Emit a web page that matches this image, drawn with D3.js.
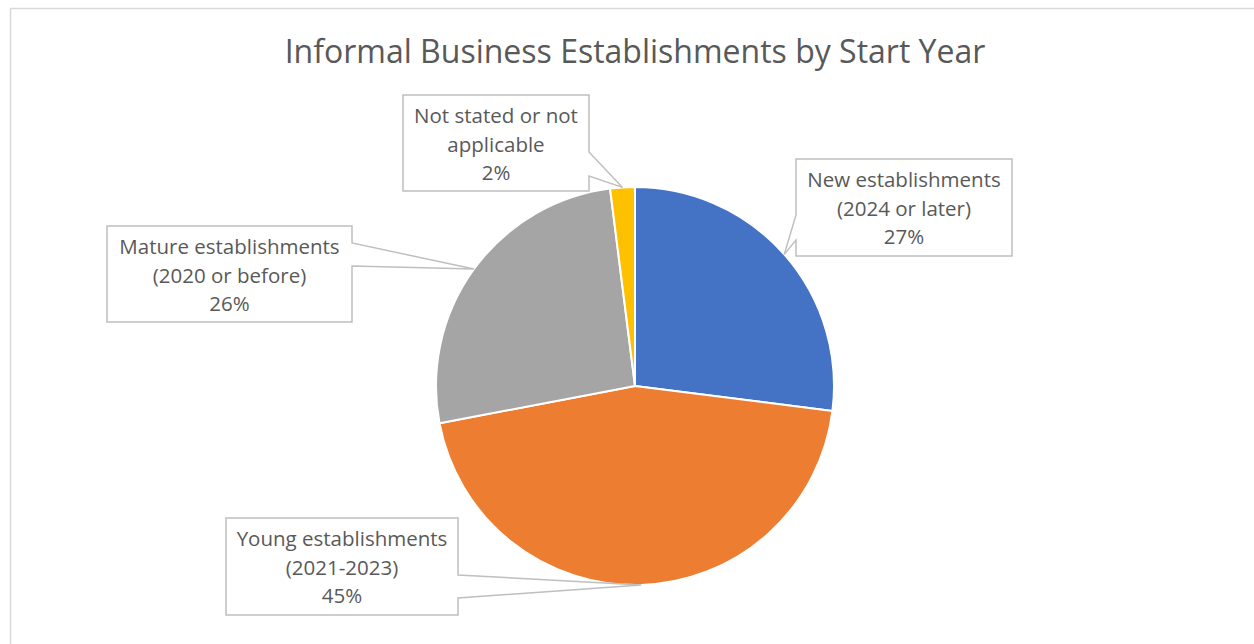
<!DOCTYPE html>
<html>
<head>
<meta charset="utf-8">
<script src="https://cdn.jsdelivr.net/npm/d3@7"></script>
<style>
  html, body { margin: 0; padding: 0; background: #fff; }
  svg { display: block; }
  text { font-family: "Open Sans", "Noto Sans", sans-serif; fill: #595959; }
</style>
</head>
<body>
<svg id="chart" width="1254" height="644"></svg>
<script>
// Share of informal business establishments by start year
const categories = [
  ["New establishments", "(2024 or later)"],
  ["Young establishments", "(2021-2023)"],
  ["Mature establishments", "(2020 or before)"],
  ["Not stated or not", "applicable"]
];
const shares = [27, 45, 26, 2];
const colors = ["#4472C4", "#ED7D31", "#A5A5A5", "#FFC000"];
const title = "Informal Business Establishments by Start Year";

// Callout box placement (x, y, w, h) and the side the pointer leaves from
const callouts = [
  { box: [796, 159, 216, 97], side: "left",  base: [215, 240] },
  { box: [226, 518, 232, 97], side: "right", base: [575, 598] },
  { box: [107, 226, 245, 96], side: "right", base: [243, 266] },
  { box: [403, 95, 186, 96],  side: "right", base: [152, 176] }
];

const svg = d3.select("#chart");
const W = 1254, H = 644;

// chart area frame
svg.append("rect")
  .attr("x", 10.5).attr("y", 8.5)
  .attr("width", W).attr("height", H)
  .attr("fill", "#fff")
  .attr("stroke", "#d9d9d9").attr("stroke-width", 1.5);

svg.append("text")
  .attr("x", 635).attr("y", 63)
  .attr("text-anchor", "middle")
  .attr("font-size", 32)
  .text(title);

const cx = 635, cy = 386, R = 199;
const pie = d3.pie().sort(null).startAngle(0).endAngle(2 * Math.PI);
const arcs = pie(shares);
const arc = d3.arc().innerRadius(0).outerRadius(R);

const g = svg.append("g").attr("transform", `translate(${cx},${cy})`);
g.selectAll("path.slice")
  .data(arcs)
  .join("path")
  .attr("class", "slice")
  .attr("d", arc)
  .attr("fill", (d, i) => colors[i])
  .attr("stroke", "#fff")
  .attr("stroke-width", 2)
  .attr("stroke-linejoin", "round");

// callouts with pointers to the middle of each slice's rim
const lineH = 28.7;
arcs.forEach((a, i) => {
  const c = callouts[i];
  const [bx, by, bw, bh] = c.box;
  const mid = (a.startAngle + a.endAngle) / 2;
  const tx = cx + R * Math.sin(mid), ty = cy - R * Math.cos(mid);
  let pts;
  if (c.side === "right") {
    const ex = bx + bw;
    pts = [[bx, by], [ex, by], [ex, c.base[0]], [tx, ty], [ex, c.base[1]], [ex, by + bh], [bx, by + bh]];
  } else {
    pts = [[bx, by], [bx + bw, by], [bx + bw, by + bh], [bx, by + bh], [bx, c.base[1]], [tx, ty], [bx, c.base[0]]];
  }
  svg.append("path")
    .attr("d", "M" + pts.map(p => p.join(",")).join("L") + "Z")
    .attr("fill", "#fff")
    .attr("stroke", "#bfbfbf")
    .attr("stroke-width", 1.5)
    .attr("stroke-linejoin", "miter");
  const lines = categories[i].concat([shares[i] + "%"]);
  const t = svg.append("text")
    .attr("text-anchor", "middle")
    .attr("font-size", 20.5);
  lines.forEach((s, k) => {
    t.append("tspan")
      .attr("x", bx + bw / 2)
      .attr("y", by + 28 + k * lineH)
      .text(s);
  });
});
</script>
</body>
</html>
